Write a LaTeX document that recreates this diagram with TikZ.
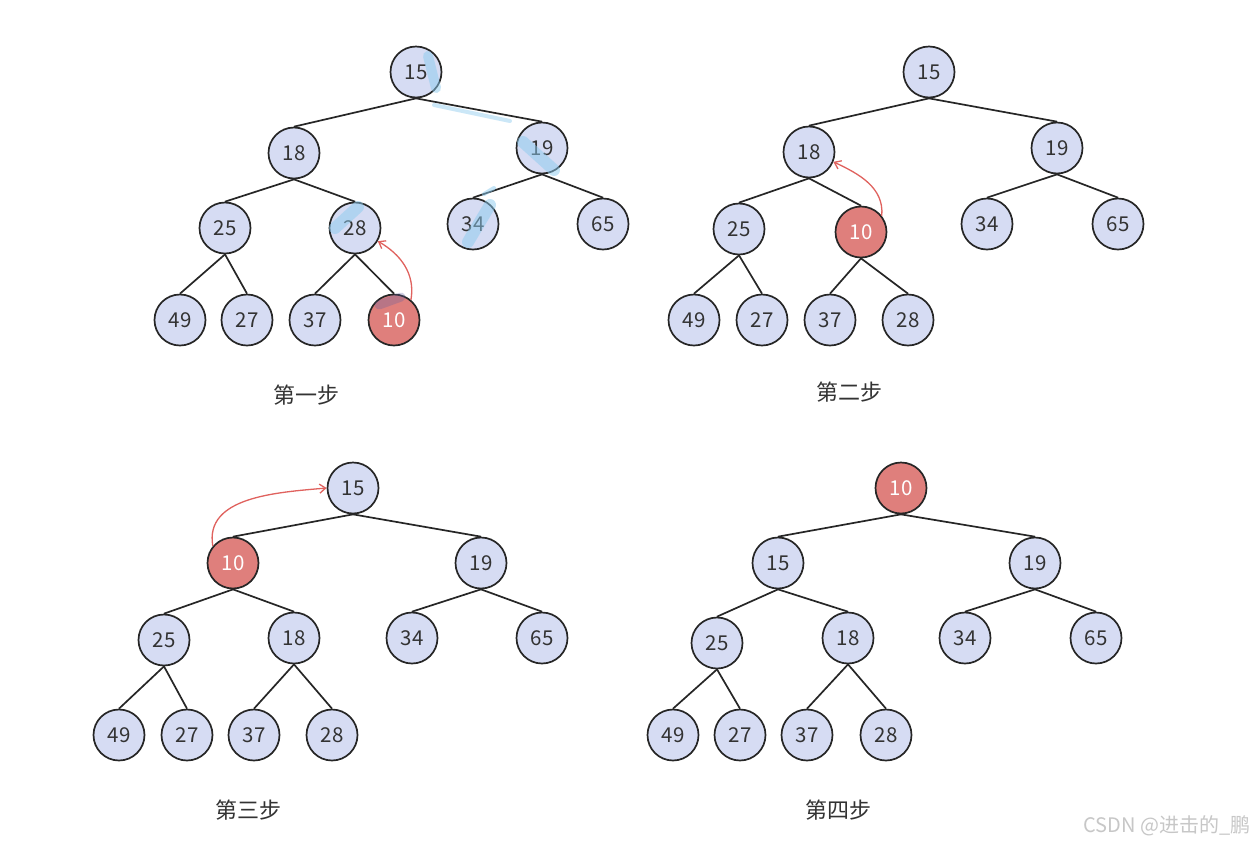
\documentclass[tikz,border=0pt]{standalone}
\usepackage{fontspec}
\setmainfont{Noto Sans CJK SC}
\usetikzlibrary{arrows.meta}
\definecolor{lav}{HTML}{D6DCF3}
\definecolor{redf}{HTML}{DF7F7C}
\definecolor{redl}{HTML}{E0625E}
\definecolor{txt}{HTML}{333333}
\definecolor{hl}{HTML}{8CCBEF}
\tikzset{
  nd/.style={circle, draw=black!85, line width=1.7pt, fill=lav, minimum size=51pt, inner sep=0pt, text=txt, font=\fontsize{20.5}{20.5}\selectfont},
  rd/.style={nd, fill=redf, text=white},
  ed/.style={draw=black!85, line width=1.7pt},
  arr/.style={draw=redl, line width=1.3pt, -{Straight Barb[length=6pt,width=9pt]}},
  lbl/.style={text=txt, font=\fontsize{22}{22}\selectfont},
  hls/.style={draw=hl, line width=12pt, opacity=0.5, line cap=round}
}
\begin{document}
\begin{tikzpicture}[x=1pt,y=-1pt]
\path[use as bounding box, fill=white] (0,0) rectangle (1258,847);

% ---------- Tree 1 ----------
\node[nd] (a15) at (416,72) {15};
\node[nd] (a18) at (294,153) {18};
\node[nd] (a19) at (542,148) {19};
\node[nd] (a25) at (225,228) {25};
\node[nd] (a28) at (355,228) {28};
\node[nd] (a34) at (473,224) {34};
\node[nd] (a65) at (603,224) {65};
\node[nd] (a49) at (180,320) {49};
\node[nd] (a27) at (247,320) {27};
\node[nd] (a37) at (315,320) {37};
\node[rd] (a10) at (394,320) {10};
\foreach \p/\c in {a15/a18,a15/a19,a18/a25,a18/a28,a19/a34,a19/a65,a25/a49,a25/a27,a28/a37,a28/a10}
  \draw[ed] (\p.south) -- (\c.north);
% blue pen marks
\draw[hls, line width=10pt] (428,56) -- (436,88);
\draw[hls, line width=4pt, opacity=0.45] (434,105) -- (510,121);
\draw[hls] (523,142) -- (554,170);
\draw[hls] (490,205) -- (468,242);
\draw[hls, line width=4pt] (484,194) -- (494,188);
\draw[hls] (335,228) -- (358,207);
\draw[hls, draw=blue!25!gray, line width=9pt, opacity=0.3] (379,305) -- (401,297);
\draw[arr] (a10.50) to[out=80,in=-30] (a28.-30);
\node[lbl] (l1) at (306,395) {第一步};

% ---------- Tree 2 ----------
\node[nd] (b15) at (929,72) {15};
\node[nd] (b18) at (809,152) {18};
\node[nd] (b19) at (1057,148) {19};
\node[nd] (b25) at (739,229) {25};
\node[rd] (b10) at (861,232) {10};
\node[nd] (b34) at (987,224) {34};
\node[nd] (b65) at (1118,224) {65};
\node[nd] (b49) at (694,320) {49};
\node[nd] (b27) at (762,320) {27};
\node[nd] (b37) at (830,320) {37};
\node[nd] (b28) at (908,320) {28};
\foreach \p/\c in {b15/b18,b15/b19,b18/b25,b18/b10,b19/b34,b19/b65,b25/b49,b25/b27,b10/b37,b10/b28}
  \draw[ed] (\p.south) -- (\c.north);
\draw[arr] (b10.38) to[out=85,in=-25] (b18.-22);
\node[lbl] (l2) at (849,392) {第二步};

% ---------- Tree 3 ----------
\node[nd] (c15) at (353,488) {15};
\node[rd] (c10) at (233,563) {10};
\node[nd] (c19) at (481,563) {19};
\node[nd] (c25) at (164,640) {25};
\node[nd] (c18) at (294,638) {18};
\node[nd] (c34) at (412,638) {34};
\node[nd] (c65) at (542,638) {65};
\node[nd] (c49) at (119,735) {49};
\node[nd] (c27) at (187,735) {27};
\node[nd] (c37) at (254,735) {37};
\node[nd] (c28) at (332,735) {28};
\foreach \p/\c in {c15/c10,c15/c19,c10/c25,c10/c18,c19/c34,c19/c65,c25/c49,c25/c27,c18/c37,c18/c28}
  \draw[ed] (\p.south) -- (\c.north);
\draw[arr] (c10.140) to[out=100,in=185] (c15.180);
\node[lbl] (l3) at (248,810) {第三步};

% ---------- Tree 4 ----------
\node[rd] (d10) at (901,488) {10};
\node[nd] (d15) at (778,563) {15};
\node[nd] (d19) at (1035,563) {19};
\node[nd] (d25) at (717,643) {25};
\node[nd] (d18) at (848,638) {18};
\node[nd] (d34) at (965,638) {34};
\node[nd] (d65) at (1096,638) {65};
\node[nd] (d49) at (673,735) {49};
\node[nd] (d27) at (740,735) {27};
\node[nd] (d37) at (807,735) {37};
\node[nd] (d28) at (886,735) {28};
\foreach \p/\c in {d10/d15,d10/d19,d15/d25,d15/d18,d19/d34,d19/d65,d25/d49,d25/d27,d18/d37,d18/d28}
  \draw[ed] (\p.south) -- (\c.north);
\node[lbl] (l4) at (838,810) {第四步};

% watermark
\node[text=black!22, font=\fontsize{20}{20}\selectfont, anchor=east] (wm) at (1254,826) {CSDN @进击的\_鹏};
\end{tikzpicture}
\end{document}
